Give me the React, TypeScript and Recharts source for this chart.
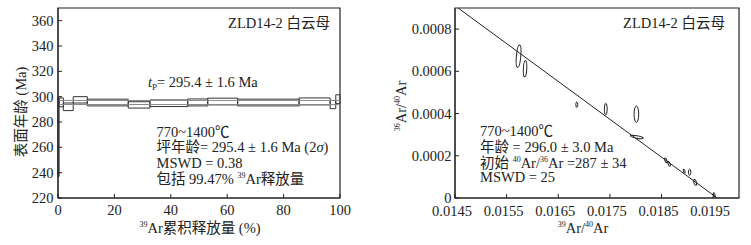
import React from 'react';
import { ScatterChart, Scatter, XAxis, YAxis, ReferenceArea } from 'recharts';

const FONT = 'Liberation Serif, Noto Sans CJK SC, serif';
const INK = '#222';

// ---------- Left chart: age spectrum ----------
const stepStart = [0, 0.4, 1.9, 5.4, 10.4, 24.9, 32.6, 46.0, 53.1, 63.7, 85.5, 96.5, 98.5];
const stepEnd = [0.4, 1.9, 5.4, 10.4, 24.9, 32.6, 46.0, 53.1, 63.7, 85.5, 96.5, 98.5, 100];
const stepLow = [237, 292, 289, 295, 292.7, 291, 292.2, 292.7, 293.5, 292.7, 293.5, 290.5, 294.5];
const stepHigh = [299, 299, 295, 300, 298, 296, 297.4, 298.2, 298.8, 298, 299, 297, 301.5];
const plateauAge = 295.4;
const plateauErr = 1.6;
const plateauFrom = 0.4;
const plateauTo = 100;
const ageTicks = [220, 240, 260, 280, 300, 320, 340, 360];
const releaseTicks = [0, 20, 40, 60, 80, 100];
const ageDomain = [220, 370];
const releaseDomain = [0, 100];

// ---------- Right chart: inverse isochron ----------
const ratio39 = [0.015731, 0.015857, 0.016859, 0.01742, 0.018013, 0.018021, 0.018583, 0.018647, 0.018938, 0.019045, 0.019151, 0.019519];
const ratio36 = [0.000671, 0.000612, 0.000442, 0.000421, 0.000397, 0.000289, 0.000178, 0.000162, 0.000127, 0.000122, 0.0000739, 0.0000156];
const err39 = [0.0000426, 0.000033, 0.000019, 0.000027, 0.000045, 0.000126, 0.000019, 0.000019, 0.000015, 0.000023, 0.000025, 0.000015];
const err36 = [0.0000535, 0.000038, 0.000013, 0.0000275, 0.000039, 0.000006, 0.000012, 0.000012, 0.0000095, 0.000015, 0.000014, 0.0000095];
const tilt = [5, 3, 0, 0, 0, 10, -25, -25, -20, 0, -15, -20];
const isoX = [0.01456, 0.019578];
const isoY = [0.0009, 0];
const ratioXTicks = [0.0145, 0.0155, 0.0165, 0.0175, 0.0185, 0.0195];
const ratioYTicks = [0, 0.0002, 0.0004, 0.0006, 0.0008];
const ratioXDomain = [0.0145, 0.02];
const ratioYDomain = [0, 0.0009];

const H = 245;
const M_TOP = 8;
const M_BOTTOM = 17;
const X_AXIS_H = 30;
const LW = 380;
const L_YW = 58;
const L_MR = 40;
const RW = 371;
const R_YW = 75;
const R_MR = 12;

const plateauLines = [plateauAge + plateauErr, plateauAge - plateauErr].map((a) => [
  { x: plateauFrom, y: a },
  { x: plateauTo, y: a },
]);

const ellipseData = ratio39.map((x, i) => ({ x, y: ratio36[i], sx: err39[i], sy: err36[i], t: tilt[i] }));
const isoData = isoX.map((x, i) => ({ x, y: isoY[i] }));

const rPlotW = RW - R_YW - R_MR;
const rPlotH = H - M_TOP - M_BOTTOM - X_AXIS_H;
const pxPerX = rPlotW / (ratioXDomain[1] - ratioXDomain[0]);
const pxPerY = rPlotH / (ratioYDomain[1] - ratioYDomain[0]);

const EllipseShape = (props: any) => {
  const { cx, cy, payload } = props;
  if (cx == null || cy == null) return <g />;
  const rx = payload.sx * pxPerX;
  const ry = payload.sy * pxPerY;
  return (
    <ellipse
      cx={cx}
      cy={cy}
      rx={rx}
      ry={ry}
      fill="none"
      stroke={INK}
      strokeWidth={1}
      transform={`rotate(${payload.t} ${cx} ${cy})`}
    />
  );
};

const Empty = () => <g />;

const tickStyle = { fontFamily: FONT, fontSize: 14.5, fill: INK };
const rxTickStyle = { ...tickStyle, dx: -3 };

const fmtRatio = (v: number) => (v === 0 ? '0' : v.toFixed(4));

const Sup = ({ t }: { t: string }) => (
  <tspan fontSize={8} dy={-6}>
    {t}
  </tspan>
);

export default function App() {
  return (
    <div style={{ position: 'absolute', left: 0, top: 0, width: 751, height: H, background: '#fff' }}>
      <div style={{ position: 'absolute', left: 0, top: 0 }}>
        <ScatterChart width={LW} height={H} margin={{ top: M_TOP, right: L_MR, bottom: M_BOTTOM, left: 0 }}>
          <XAxis
            type="number"
            dataKey="x"
            domain={releaseDomain}
            ticks={releaseTicks}
            allowDataOverflow
            height={X_AXIS_H}
            tickSize={-4}
            tickMargin={11}
            tick={tickStyle}
            stroke={INK}
          />
          <YAxis
            type="number"
            dataKey="y"
            domain={ageDomain}
            ticks={ageTicks}
            allowDataOverflow
            width={L_YW}
            tickSize={-4}
            tickMargin={8.5}
            tick={tickStyle}
            stroke={INK}
          />
          <ReferenceArea
            x1={releaseDomain[0]}
            x2={releaseDomain[1]}
            y1={ageDomain[0]}
            y2={ageDomain[1]}
            fill="none"
            stroke={INK}
            strokeWidth={1.2}
          />
          {plateauLines.map((d, i) => (
            <Scatter
              key={'pl' + i}
              data={d}
              line={{ stroke: '#8a8a8a', strokeWidth: 1 }}
              shape={Empty}
              isAnimationActive={false}
            />
          ))}
          {stepStart.map((s, i) => (
            <ReferenceArea
              key={'st' + i}
              x1={s}
              x2={stepEnd[i]}
              y1={stepLow[i]}
              y2={stepHigh[i]}
              fill="none"
              stroke="#333"
              strokeWidth={1}
            />
          ))}
        </ScatterChart>
      </div>
      <div style={{ position: 'absolute', left: LW, top: 0 }}>
        <ScatterChart width={RW} height={H} margin={{ top: M_TOP, right: R_MR, bottom: M_BOTTOM, left: 0 }}>
          <XAxis
            type="number"
            dataKey="x"
            domain={ratioXDomain}
            ticks={ratioXTicks}
            allowDataOverflow
            height={X_AXIS_H}
            tickSize={-4}
            tickMargin={12}
            tick={rxTickStyle}
            tickFormatter={fmtRatio}
            stroke={INK}
          />
          <YAxis
            type="number"
            dataKey="y"
            domain={ratioYDomain}
            ticks={ratioYTicks}
            allowDataOverflow
            width={R_YW}
            tickSize={-4}
            tickMargin={7.5}
            tick={tickStyle}
            tickFormatter={fmtRatio}
            stroke={INK}
          />
          <ReferenceArea
            x1={ratioXDomain[0]}
            x2={ratioXDomain[1]}
            y1={ratioYDomain[0]}
            y2={ratioYDomain[1]}
            fill="none"
            stroke={INK}
            strokeWidth={1.2}
          />
          <Scatter data={isoData} line={{ stroke: INK, strokeWidth: 1 }} shape={Empty} isAnimationActive={false} />
          <Scatter data={ellipseData} shape={EllipseShape} isAnimationActive={false} />
        </ScatterChart>
      </div>
      <svg
        width={751}
        height={H}
        style={{ position: 'absolute', left: 0, top: 0, pointerEvents: 'none' }}
        fontFamily={FONT}
        fill={INK}
      >
        {/* Left chart texts */}
        <text x={330} y={28} fontSize={14.5} textAnchor="end">
          ZLD14-2 白云母
        </text>
        <text x={148} y={87} fontSize={14.5}>
          <tspan fontStyle="italic">t</tspan>
          <tspan fontSize={9} dy={3}>
            P
          </tspan>
          <tspan dy={-3}>= 295.4 ± 1.6 Ma</tspan>
        </text>
        <text x={156.5} y={136.5} fontSize={14.5}>
          770~1400℃
        </text>
        <text x={156.5} y={152} fontSize={14.5}>
          坪年龄= 295.4 ± 1.6 Ma  (2<tspan fontStyle="italic">σ</tspan>)
        </text>
        <text x={156.5} y={167.5} fontSize={14.5}>
          MSWD = 0.38
        </text>
        <text x={156.5} y={183.5} fontSize={14.5}>
          包括 99.47% <Sup t="39" />
          <tspan dy={6}>Ar释放量</tspan>
        </text>
        <text x={200} y={233} fontSize={14.5} textAnchor="middle">
          <Sup t="39" />
          <tspan dy={6}>Ar累积释放量 (%)</tspan>
        </text>
        <text x={0} y={0} fontSize={14.5} textAnchor="middle" transform="translate(26 112) rotate(-90)">
          表面年龄 (Ma)
        </text>

        {/* Right chart texts */}
        <text x={725} y={28} fontSize={14.5} textAnchor="end">
          ZLD14-2 白云母
        </text>
        <text x={480} y={136} fontSize={14.5}>
          770~1400℃
        </text>
        <text x={480} y={152} fontSize={14.5}>
          年龄 = 296.0 ± 3.0 Ma
        </text>
        <text x={480} y={167.5} fontSize={14.5}>
          初始 <Sup t="40" />
          <tspan dy={6}>Ar/</tspan>
          <Sup t="36" />
          <tspan dy={6}>Ar =287 ± 34</tspan>
        </text>
        <text x={480} y={182} fontSize={14.5}>
          MSWD = 25
        </text>
        <text x={583} y={233} fontSize={14.5} textAnchor="middle">
          <Sup t="39" />
          <tspan dy={6}>Ar/</tspan>
          <Sup t="40" />
          <tspan dy={6}>Ar</tspan>
        </text>
        <text x={0} y={0} fontSize={14.5} textAnchor="middle" transform="translate(406 106) rotate(-90)">
          <Sup t="36" />
          <tspan dy={6}>Ar/</tspan>
          <Sup t="40" />
          <tspan dy={6}>Ar</tspan>
        </text>
      </svg>
    </div>
  );
}
